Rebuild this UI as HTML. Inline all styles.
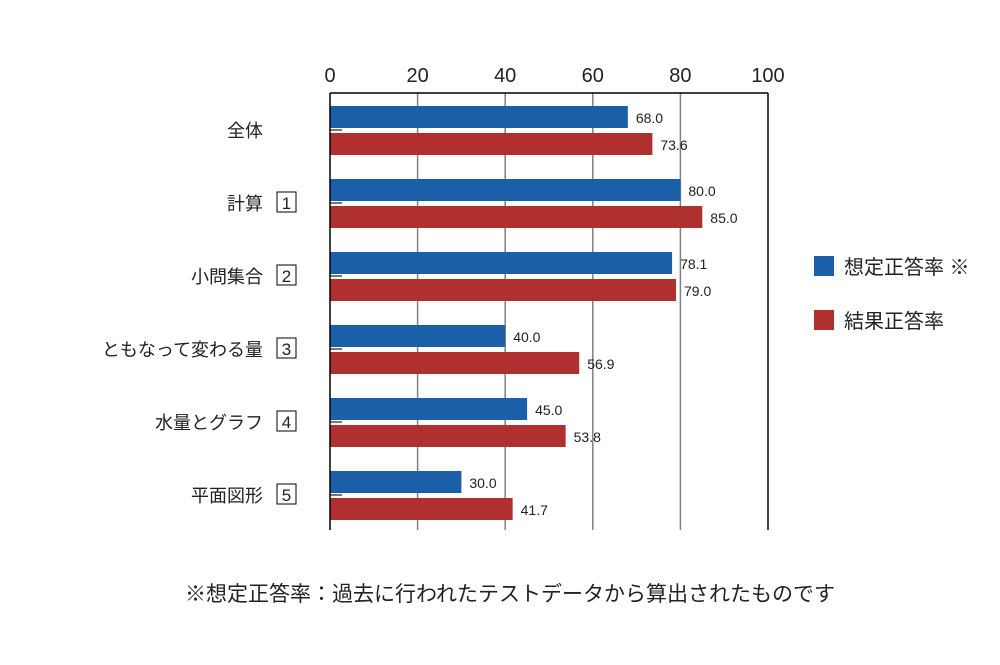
<!DOCTYPE html>
<html><head><meta charset="utf-8"><style>
body{margin:0;background:#fff}
text{font-family:"Liberation Sans","Noto Sans CJK JP",sans-serif}
</style></head><body>
<svg id="c" width="1000" height="660" xmlns="http://www.w3.org/2000/svg"></svg>
<script>
const categories=["全体","計算","小問集合","ともなって変わる量","水量とグラフ","平面図形"];
const boxNums=["","1","2","3","4","5"];
const expected=[68.0,80.0,78.1,40.0,45.0,30.0];
const results=[73.6,85.0,79.0,56.9,53.8,41.7];
const ticks=[0,20,40,60,80,100];
const svg=document.getElementById('c');
const NS='http://www.w3.org/2000/svg';
const x0=330,x1=768,yTop=93,yBot=530,g0=129,gs=73;
const xs=v=>x0+(x1-x0)*v/100;
function mk(t,a,name){const e=document.createElementNS(NS,t);for(const k in a)e.setAttribute(k,a[k]);


svg.appendChild(e);return e;}
ticks.forEach((t,i)=>{
 const x=xs(t);
 if(i>0&&i<ticks.length-1)mk('line',{x1:x,x2:x,y1:yTop,y2:yBot,stroke:'#808080','stroke-width':1.5},'gridline');
 const tx=mk('text',{x:x,y:82,'text-anchor':'middle','font-size':20,fill:'#222'},'x-tick-label');tx.textContent=t;
});
mk('line',{x1:x0,x2:x1,y1:yTop,y2:yTop,stroke:'#000','stroke-width':1.5},'plot-top-border');
mk('line',{x1:x1,x2:x1,y1:yTop,y2:yBot,stroke:'#000','stroke-width':1.5},'plot-right-border');
categories.forEach((c,i)=>{
 const cy=g0+gs*i;
 mk('rect',{x:x0,y:cy-23,width:xs(expected[i])-x0,height:22,fill:'#1a5fa8'},'bar-expected');
 mk('rect',{x:x0,y:cy+4,width:xs(results[i])-x0,height:22,fill:'#b03030'},'bar-result');
 mk('line',{x1:x0,x2:x0+12,y1:cy+1,y2:cy+1,stroke:'#777','stroke-width':2},'y-tick');
 let t=mk('text',{x:xs(expected[i])+8,y:cy-6,'font-size':14,fill:'#222'},'value-label');t.textContent=expected[i].toFixed(1);
 t=mk('text',{x:xs(results[i])+8,y:cy+21,'font-size':14,fill:'#222'},'value-label');t.textContent=results[i].toFixed(1);
 t=mk('text',{x:263,y:cy+8,'text-anchor':'end','font-size':18,fill:'#222'},'category-label');t.textContent=c;
 if(boxNums[i]){
  mk('rect',{x:277,y:cy-10,width:19,height:20,fill:'none',stroke:'#000','stroke-width':1},'number-box');
  t=mk('text',{x:286.5,y:cy+7,'text-anchor':'middle','font-size':17,fill:'#222'},'number-label');t.textContent=boxNums[i];
 }
});
mk('line',{x1:x0,x2:x0,y1:yTop,y2:yBot,stroke:'#000','stroke-width':1.5},'y-axis');
mk('rect',{x:814,y:256,width:20,height:20,fill:'#1a5fa8'},'legend-swatch-expected');
let l=mk('text',{x:844,y:274,'font-size':20,fill:'#222'},'legend-expected');l.textContent='想定正答率 ※';
mk('rect',{x:814,y:310,width:20,height:20,fill:'#b03030'},'legend-swatch-result');
l=mk('text',{x:844,y:328,'font-size':20,fill:'#222'},'legend-result');l.textContent='結果正答率';
l=mk('text',{x:510,y:601,'text-anchor':'middle','font-size':21,fill:'#222'},'footnote');l.textContent='※想定正答率：過去に行われたテストデータから算出されたものです';
</script>
</body></html>
